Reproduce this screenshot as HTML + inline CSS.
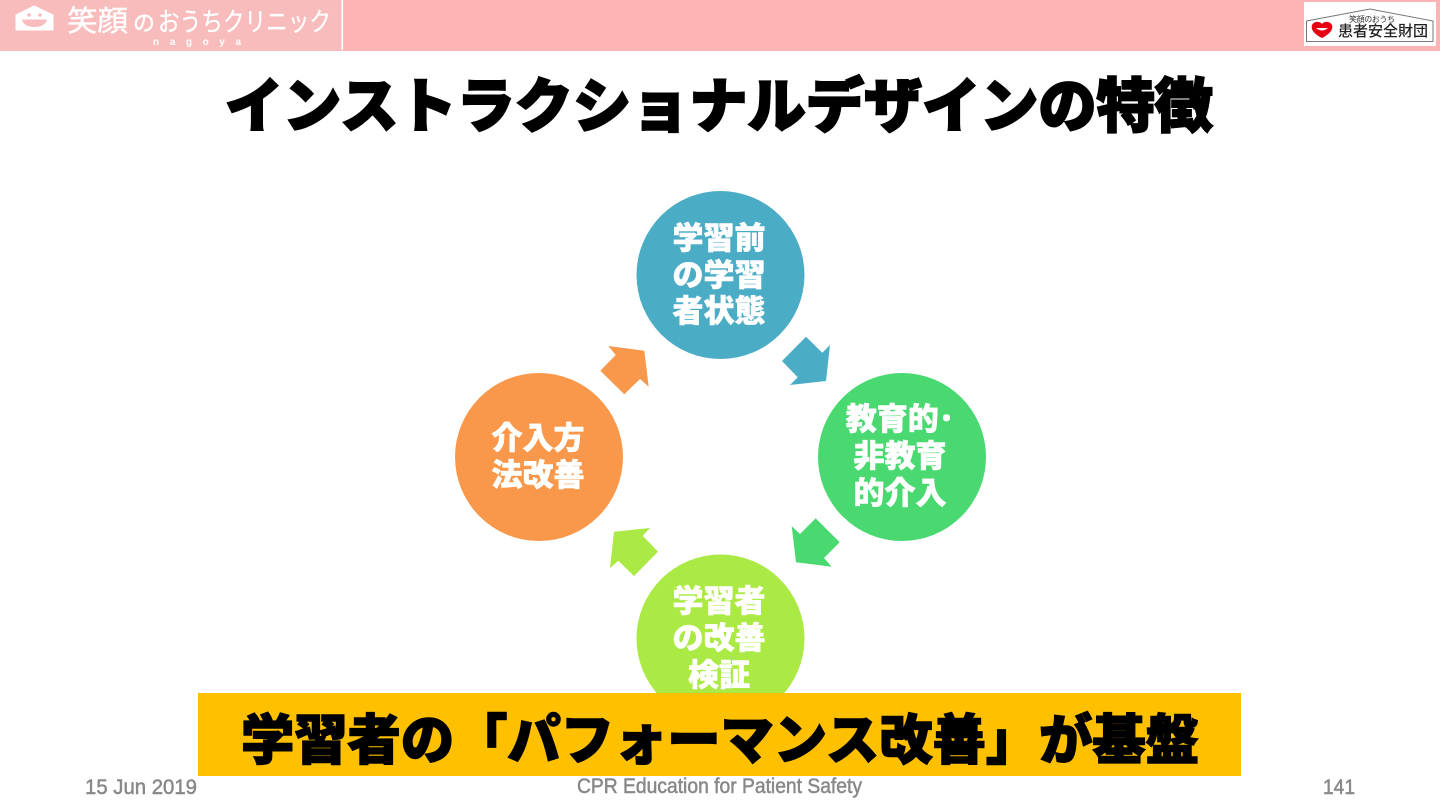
<!DOCTYPE html>
<html lang="ja">
<head>
<meta charset="utf-8">
<title>インストラクショナルデザインの特徴</title>
<style>
html,body{margin:0;padding:0;background:#fff;width:1440px;height:810px;overflow:hidden}
svg{display:block}
text{font-family:"Liberation Sans","Noto Sans CJK JP",sans-serif}
.cjk{font-family:"Noto Sans CJK JP",sans-serif;font-weight:900}
.c{fill:#fff;stroke:#fff;stroke-width:.6px;font-size:31px;text-anchor:middle}
.f{fill:#888;stroke:#888;stroke-width:.5px;font-size:21px;font-weight:400}
</style>
</head>
<body>
<svg width="1440" height="810" viewBox="0 0 1440 810" xmlns="http://www.w3.org/2000/svg">
<rect width="1440" height="810" fill="#fff"/>
<!-- header -->
<rect x="0" y="0" width="1440" height="51" fill="#feb4b4"/>
<rect x="0" y="0" width="342" height="51" fill="#f8bcbc"/>
<rect x="341.500" y="0" width="1.600" height="50" fill="#fff"/>
<path d="M34 6 L53 15 V30 H16 V15 Z" fill="#fff" stroke="#fff" stroke-width="1" stroke-linejoin="round"/>
<circle cx="29" cy="15" r="1.800" fill="#f8bcbc"/><circle cx="40" cy="15" r="1.800" fill="#f8bcbc"/>
<path d="M22 19.500 H47 Q45 27 34.500 27 Q24 27 22 19.500 Z" fill="#f8bcbc"/>
<text x="67" y="31" font-size="29" fill="#fff" stroke="#fff" stroke-width=".4" textLength="61" lengthAdjust="spacingAndGlyphs" style="font-family:'Noto Sans CJK JP',sans-serif;font-weight:400">笑顔</text>
<text x="133" y="31" font-size="22" fill="#fff" style="font-family:'Noto Sans CJK JP',sans-serif;font-weight:500">の</text>
<text x="158" y="31" font-size="26" fill="#fff" stroke="#fff" stroke-width=".3" textLength="173" lengthAdjust="spacingAndGlyphs" style="font-family:'Noto Sans CJK JP',sans-serif;font-weight:400">おうちクリニック</text>
<text x="153" y="45" font-size="10" fill="#fff" textLength="88" font-weight="700">nagoya</text>
<!-- right logo -->
<rect x="1304" y="2" width="132" height="44" fill="#fff"/>
<path d="M1306.500 21 L1370 9 L1433 21 V41.500 H1306.500 Z" fill="none" stroke="#777" stroke-width="1"/>
<text x="1349" y="22" font-size="8" fill="#333" textLength="46" style="font-family:'Noto Sans CJK JP',sans-serif;font-weight:400">笑顔のおうち</text>
<path d="M1322 38 C1312 33 1311 28 1312 25 C1314 21 1320 21 1322 24 C1324 21 1330 21 1332 25 C1333 28 1332 33 1322 38 Z" fill="#e60012"/>
<path d="M1316 28 H1328 Q1322 33 1316 28Z" fill="#fff"/>
<text x="1338" y="36" font-size="15" fill="#222" textLength="90" style="font-family:'Noto Sans CJK JP',sans-serif;font-weight:500">患者安全財団</text>
<!-- title -->
<text class="cjk" x="225" y="127" font-size="59" fill="#000" stroke="#000" stroke-width="2" textLength="988" lengthAdjust="spacingAndGlyphs">インストラクショナルデザインの特徴</text>
<!-- arrows -->
<path d="M608.300 346 L644.300 350.700 L648.700 386.700 L640 379 L624.300 394.300 L600.300 370.700 L615.700 355 Z" fill="#f9984a"/>
<path d="M806 336.700 L822.300 352.700 L830 345 L826 381 L790 385 L797.700 377.300 L782 361 Z" fill="#4bacc6"/>
<path d="M815.700 518.300 L839.700 542.300 L824 558 L831.700 566.700 L796 562.300 L791.700 526.300 L800 534 Z" fill="#4ad971"/>
<path d="M650 528 L642.700 535.700 L658 551.700 L634 576 L618.300 560.700 L610 568 L614 531.700 Z" fill="#abe944"/>
<!-- circles -->
<circle cx="720.500" cy="275" r="84" fill="#4bacc6"/>
<circle cx="902" cy="457" r="84" fill="#4ad971"/>
<circle cx="720.500" cy="638.500" r="84" fill="#abe944"/>
<circle cx="539" cy="457" r="84" fill="#f9984a"/>
<g>
<text class="cjk c" x="719" y="249">学習前</text>
<text class="cjk c" x="719" y="286">の学習</text>
<text class="cjk c" x="719" y="322">者状態</text>
<text class="cjk c" x="900" y="430">教育的･</text>
<text class="cjk c" x="900" y="467">非教育</text>
<text class="cjk c" x="900" y="504">的介入</text>
<text class="cjk c" x="719" y="612">学習者</text>
<text class="cjk c" x="719" y="649">の改善</text>
<text class="cjk c" x="719" y="686">検証</text>
<text class="cjk c" x="538" y="449">介入方</text>
<text class="cjk c" x="538" y="486">法改善</text>
</g>
<!-- banner -->
<rect x="198" y="693" width="1043" height="83" fill="#ffc000"/>
<text class="cjk" x="241" y="759" font-size="54" fill="#000" stroke="#000" stroke-width="1.500" textLength="958" lengthAdjust="spacingAndGlyphs">学習者の「パフォーマンス改善」が基盤</text>
<!-- footer -->
<text class="f" x="85" y="794" textLength="112" lengthAdjust="spacingAndGlyphs">15 Jun 2019</text>
<text class="f" x="577" y="793" textLength="285" lengthAdjust="spacingAndGlyphs">CPR Education for Patient Safety</text>
<text class="f" x="1323" y="794" textLength="32" lengthAdjust="spacingAndGlyphs">141</text>
</svg>
</body>
</html>
